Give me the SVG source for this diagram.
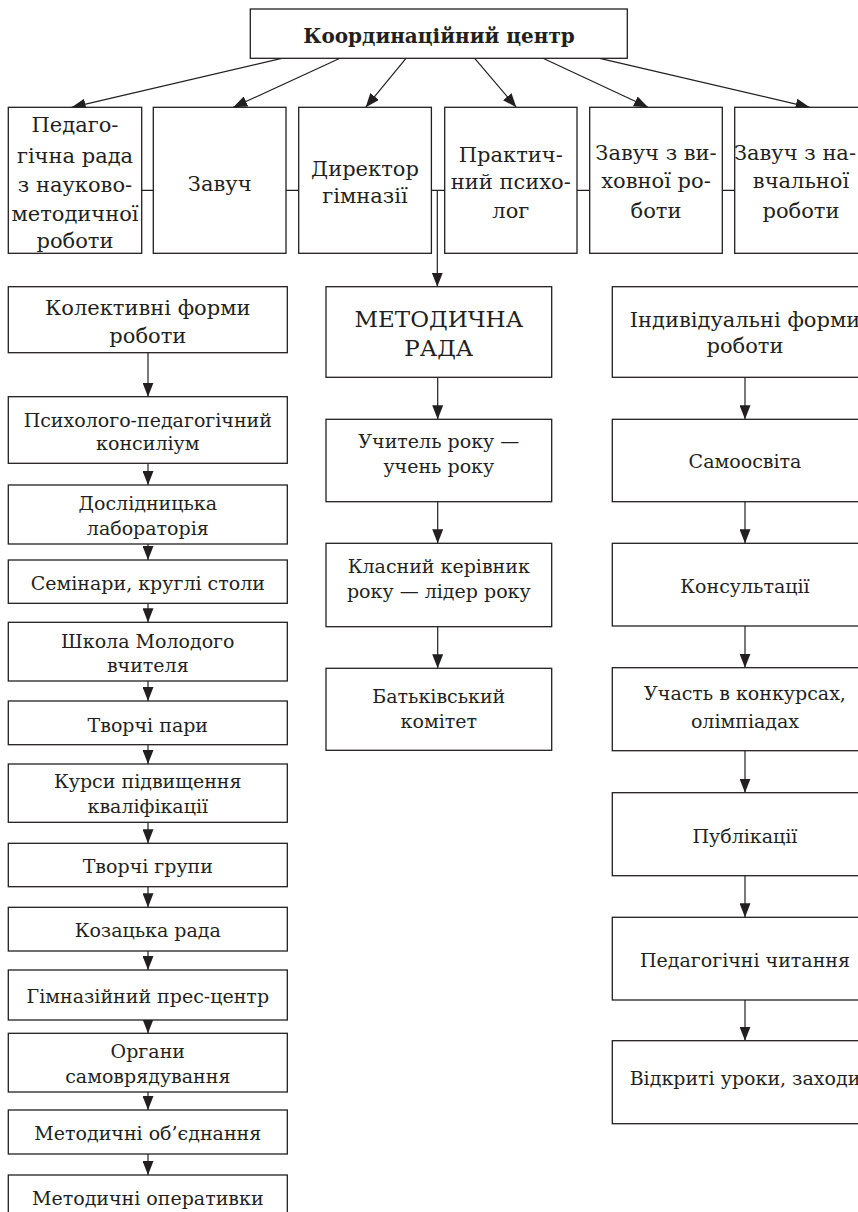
<svg xmlns="http://www.w3.org/2000/svg" width="858" height="1212" viewBox="0 0 858 1212">
  <style>
    .box { fill: #ffffff; stroke: #231f20; stroke-width: 1.3; }
    .link { fill: none; stroke: #231f20; stroke-width: 1.2; }
    .arrow { fill: none; stroke: #231f20; stroke-width: 1.2; marker-end: url(#head); }
    text { font-family: "DejaVu Serif", "Liberation Serif", serif; fill: #231f20; text-anchor: middle; }
    .t21 { font-size: 21px; }
    .t19 { font-size: 19px; }
    .t23 { font-size: 23px; }
    .title { font-size: 20px; font-weight: bold; }
  </style>
  <defs>
    <marker id="head" viewBox="0 0 14 11" refX="14" refY="5.5" markerWidth="14" markerHeight="11" markerUnits="userSpaceOnUse" orient="auto">
      <path d="M0,0 L14,5.5 L0,11 Z" fill="#231f20"/>
    </marker>
  </defs>
  <rect width="858" height="1212" fill="#ffffff"/>

  <!-- connectors -->
  <g id="connectors">
    <!-- coordination centre to the six units -->
    <line class="arrow" x1="281.7" y1="58.3" x2="71.7" y2="107.3"/>
    <line class="arrow" x1="340" y1="58.3" x2="233.3" y2="107.3"/>
    <line class="arrow" x1="406" y1="58.3" x2="365.7" y2="107.3"/>
    <line class="arrow" x1="474.7" y1="58.3" x2="516.3" y2="107.3"/>
    <line class="arrow" x1="543" y1="58.3" x2="648" y2="107.3"/>
    <line class="arrow" x1="599.7" y1="58.3" x2="809.7" y2="107.3"/>
    <!-- horizontal tie between the units -->
    <line class="link" x1="141.7" y1="190.3" x2="734.7" y2="190.3"/>
    <!-- drop to the methodical council -->
    <line class="arrow" x1="437.3" y1="190.3" x2="437.3" y2="286.7"/>
    <!-- left column -->
    <line class="arrow" x1="148" y1="352.7" x2="148" y2="396.7"/>
    <line class="arrow" x1="148" y1="463.3" x2="148" y2="485"/>
    <line class="arrow" x1="148" y1="544" x2="148" y2="560"/>
    <line class="arrow" x1="148" y1="603.3" x2="148" y2="622.3"/>
    <line class="arrow" x1="148" y1="681" x2="148" y2="701"/>
    <line class="arrow" x1="148" y1="744.7" x2="148" y2="764"/>
    <line class="arrow" x1="148" y1="822.3" x2="148" y2="843.3"/>
    <line class="arrow" x1="148" y1="886.7" x2="148" y2="907.3"/>
    <line class="arrow" x1="148" y1="951" x2="148" y2="970"/>
    <line class="arrow" x1="148" y1="1020" x2="148" y2="1033.3"/>
    <line class="arrow" x1="148" y1="1092" x2="148" y2="1110"/>
    <line class="arrow" x1="148" y1="1154" x2="148" y2="1175"/>
    <!-- middle column -->
    <line class="arrow" x1="437.7" y1="377.3" x2="437.7" y2="419.3"/>
    <line class="arrow" x1="437.7" y1="501.7" x2="437.7" y2="543.3"/>
    <line class="arrow" x1="437.7" y1="626.7" x2="437.7" y2="668.3"/>
    <!-- right column -->
    <line class="arrow" x1="745" y1="377.3" x2="745" y2="419.3"/>
    <line class="arrow" x1="745" y1="501.7" x2="745" y2="543.3"/>
    <line class="arrow" x1="745" y1="626" x2="745" y2="667.7"/>
    <line class="arrow" x1="745" y1="750.7" x2="745" y2="792.7"/>
    <line class="arrow" x1="745" y1="875.7" x2="745" y2="917.3"/>
    <line class="arrow" x1="745" y1="1000" x2="745" y2="1040.7"/>
  </g>

  <!-- top -->
  <g id="coord-centre">
    <rect class="box" x="250.3" y="9" width="377" height="49.3"/>
    <text class="title" x="439" y="42.5">Координаційний центр</text>
  </g>

  <!-- unit row -->
  <g id="ped-council">
    <rect class="box" x="8.3" y="107.3" width="133.4" height="146"/>
    <text class="t21" x="75" y="131.7">Педаго-</text>
    <text class="t21" x="75" y="162.7">гічна рада</text>
    <text class="t21" x="75" y="191.7">з науково-</text>
    <text class="t21" x="75" y="220.5">методичної</text>
    <text class="t21" x="75" y="248.3">роботи</text>
  </g>
  <g id="head-teacher">
    <rect class="box" x="153.3" y="107.3" width="132.7" height="146"/>
    <text class="t21" x="219.7" y="190.7">Завуч</text>
  </g>
  <g id="director">
    <rect class="box" x="298.7" y="107.3" width="132.7" height="146"/>
    <text class="t21" x="365" y="176.3">Директор</text>
    <text class="t21" x="365" y="203">гімназії</text>
  </g>
  <g id="psychologist">
    <rect class="box" x="444.7" y="107.3" width="132.3" height="146"/>
    <text class="t21" x="510.8" y="161.7">Практич-</text>
    <text class="t21" x="510.8" y="189.3">ний психо-</text>
    <text class="t21" x="510.8" y="218.3">лог</text>
  </g>
  <g id="deputy-upbringing">
    <rect class="box" x="589.7" y="107.3" width="132.6" height="146"/>
    <text class="t21" x="656" y="159.7">Завуч з ви-</text>
    <text class="t21" x="656" y="188">ховної ро-</text>
    <text class="t21" x="656" y="218">боти</text>
  </g>
  <g id="deputy-teaching">
    <rect class="box" x="734.7" y="107.3" width="132.7" height="146"/>
    <text class="t21" x="856" y="159.7" style="text-anchor:end">Завуч з на-</text>
    <text class="t21" x="801" y="188">вчальної</text>
    <text class="t21" x="801" y="218">роботи</text>
  </g>

  <!-- left column: collective forms -->
  <g id="collective">
    <rect class="box" x="8.3" y="286.7" width="279" height="66"/>
    <text class="t21" x="147.8" y="315">Колективні форми</text>
    <text class="t21" x="147.8" y="343.3">роботи</text>
  </g>
  <g id="consilium">
    <rect class="box" x="8.3" y="396.7" width="279" height="66.6"/>
    <text class="t19" x="147.8" y="426.7">Психолого-педагогічний</text>
    <text class="t19" x="147.8" y="450">консиліум</text>
  </g>
  <g id="research-lab">
    <rect class="box" x="8.3" y="485" width="279" height="59"/>
    <text class="t19" x="147.8" y="510">Дослідницька</text>
    <text class="t19" x="147.8" y="535">лабораторія</text>
  </g>
  <g id="seminars">
    <rect class="box" x="8.3" y="560" width="279" height="43.3"/>
    <text class="t19" x="147.8" y="590">Семінари, круглі столи</text>
  </g>
  <g id="young-teacher">
    <rect class="box" x="8.3" y="622.3" width="279" height="58.7"/>
    <text class="t19" x="147.8" y="648.3">Школа Молодого</text>
    <text class="t19" x="147.8" y="671.7">вчителя</text>
  </g>
  <g id="creative-pairs">
    <rect class="box" x="8.3" y="701" width="279" height="43.7"/>
    <text class="t19" x="147.8" y="731.7">Творчі пари</text>
  </g>
  <g id="courses">
    <rect class="box" x="8.3" y="764" width="279" height="58.3"/>
    <text class="t19" x="147.8" y="788.3">Курси підвищення</text>
    <text class="t19" x="147.8" y="813.3">кваліфікації</text>
  </g>
  <g id="creative-groups">
    <rect class="box" x="8.3" y="843.3" width="279" height="43.4"/>
    <text class="t19" x="147.8" y="873.3">Творчі групи</text>
  </g>
  <g id="cossack-council">
    <rect class="box" x="8.3" y="907.3" width="279" height="43.7"/>
    <text class="t19" x="147.8" y="937.3">Козацька рада</text>
  </g>
  <g id="press-centre">
    <rect class="box" x="8.3" y="970" width="279" height="50"/>
    <text class="t19" x="147.8" y="1003.3">Гімназійний прес-центр</text>
  </g>
  <g id="self-government">
    <rect class="box" x="8.3" y="1033.3" width="279" height="58.7"/>
    <text class="t19" x="147.8" y="1058.3">Органи</text>
    <text class="t19" x="147.8" y="1083.3">самоврядування</text>
  </g>
  <g id="method-unions">
    <rect class="box" x="8.3" y="1110" width="279" height="44"/>
    <text class="t19" x="147.8" y="1140">Методичні об’єднання</text>
  </g>
  <g id="method-briefings">
    <rect class="box" x="8.3" y="1175" width="279" height="50"/>
    <text class="t19" x="147.8" y="1205">Методичні оперативки</text>
  </g>

  <!-- middle column: methodical council -->
  <g id="method-council">
    <rect class="box" x="326" y="286.7" width="225.7" height="90.6"/>
    <text class="t23" x="438.8" y="326.7">МЕТОДИЧНА</text>
    <text class="t23" x="438.8" y="356">РАДА</text>
  </g>
  <g id="teacher-of-year">
    <rect class="box" x="326" y="419.3" width="225.7" height="82.4"/>
    <text class="t19" x="438.8" y="448.3">Учитель року —</text>
    <text class="t19" x="438.8" y="472.7">учень року</text>
  </g>
  <g id="class-leader">
    <rect class="box" x="326" y="543.3" width="225.7" height="83.4"/>
    <text class="t19" x="438.8" y="573.3">Класний керівник</text>
    <text class="t19" x="438.8" y="598.3">року — лідер року</text>
  </g>
  <g id="parents-committee">
    <rect class="box" x="326" y="668.3" width="225.7" height="82"/>
    <text class="t19" x="438.8" y="703.3">Батьківський</text>
    <text class="t19" x="438.8" y="728.3">комітет</text>
  </g>

  <!-- right column: individual forms -->
  <g id="individual">
    <rect class="box" x="612.3" y="286.7" width="265.4" height="90.6"/>
    <text class="t21" x="745" y="326.7">Індивідуальні форми</text>
    <text class="t21" x="745" y="353.3">роботи</text>
  </g>
  <g id="self-education">
    <rect class="box" x="612.3" y="419.3" width="265.4" height="82.4"/>
    <text class="t19" x="745" y="468.3">Самоосвіта</text>
  </g>
  <g id="consultations">
    <rect class="box" x="612.3" y="543.3" width="265.4" height="82.7"/>
    <text class="t19" x="745" y="593.3">Консультації</text>
  </g>
  <g id="contests">
    <rect class="box" x="612.3" y="667.7" width="265.4" height="83"/>
    <text class="t19" x="745" y="700">Участь в конкурсах,</text>
    <text class="t19" x="745" y="728.3">олімпіадах</text>
  </g>
  <g id="publications">
    <rect class="box" x="612.3" y="792.7" width="265.4" height="83"/>
    <text class="t19" x="745" y="843.3">Публікації</text>
  </g>
  <g id="ped-readings">
    <rect class="box" x="612.3" y="917.3" width="265.4" height="82.7"/>
    <text class="t19" x="745" y="966.7">Педагогічні читання</text>
  </g>
  <g id="open-lessons">
    <rect class="box" x="612.3" y="1040.7" width="265.4" height="83"/>
    <text class="t19" x="745" y="1085">Відкриті уроки, заходи</text>
  </g>
</svg>
